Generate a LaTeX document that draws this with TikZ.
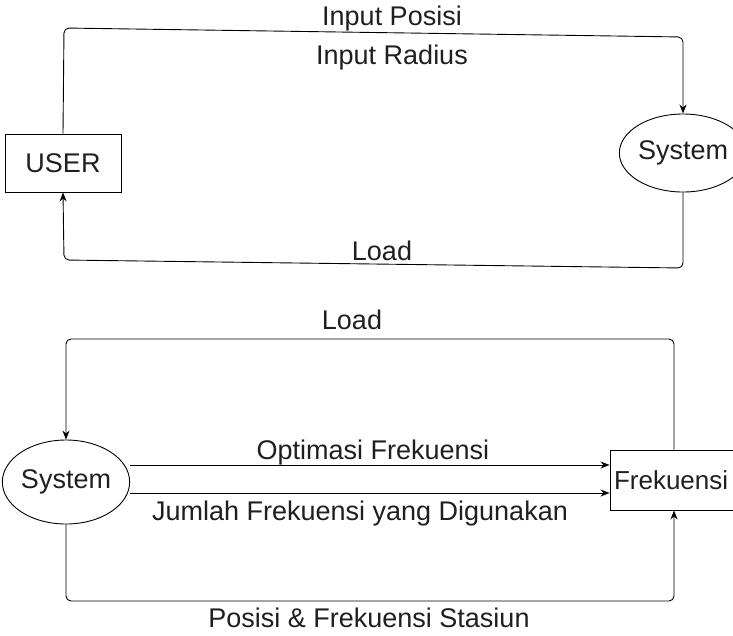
\documentclass[tikz,border=0pt]{standalone}
\usepackage{fontspec}
\setmainfont{Liberation Sans}
\usetikzlibrary{arrows.meta,shapes.geometric}
\begin{document}
\begin{tikzpicture}[x=1pt,y=-1pt,
  every node/.style={font=\fontsize{27}{31}\selectfont, inner sep=0pt, text=black!88},
  boxnode/.style={draw, line width=0.9pt, rectangle},
  ellnode/.style={draw, line width=0.9pt, ellipse},
  lbl/.style={},
  conn/.style={line width=0.9pt, rounded corners=5pt},
  arr/.style={conn, -{Stealth[length=9pt,width=7pt]}}]
\useasboundingbox (0,0) rectangle (733,635);
% upper part
\node[boxnode, minimum width=116pt, minimum height=58pt] (user) at (63,163) {USER};
\node[ellnode, minimum width=116pt, minimum height=78pt] (sysa) at (683,153) {System};
\draw[arr] (user.north) -- (64,28) -- (683,37) -- (sysa.north);
\draw[arr] (sysa.south) -- (683,268) -- (64,260) -- (user.south);
\node[lbl] (ip) at (392,19) {Input Posisi};
\node[lbl] (ir) at (392,58) {Input Radius};
\node[lbl] (lda) at (382,251) {Load};
% lower part
\node[ellnode, minimum width=122pt, minimum height=84pt] (sysb) at (66,482) {System};
\node[boxnode, minimum width=128pt, minimum height=60pt, text width=124pt, align=left, font=\fontsize{26}{30}\selectfont] (fre) at (674,480) {\hspace*{2pt}Frekuensi};
\draw[arr] (fre.north) -- (674,339) -- (66,339) -- (sysb.north);
\draw[arr] ([yshift=17pt]sysb.east) -- ([yshift=15pt]fre.west);
\draw[arr] ([yshift=-11pt]sysb.east) -- ([yshift=-13pt]fre.west);
\draw[arr] (sysb.south) -- (66,601) -- (674,601) -- (fre.south);
\node[lbl] (ldb) at (352,320) {Load};
\node[lbl] (opt) at (373,453) {Optimasi Frekuensi};
\node[lbl] (jum) at (360,514) {Jumlah Frekuensi yang Digunakan};
\node[lbl] (pos) at (369,618) {Posisi \& Frekuensi Stasiun};
\end{tikzpicture}
\end{document}
